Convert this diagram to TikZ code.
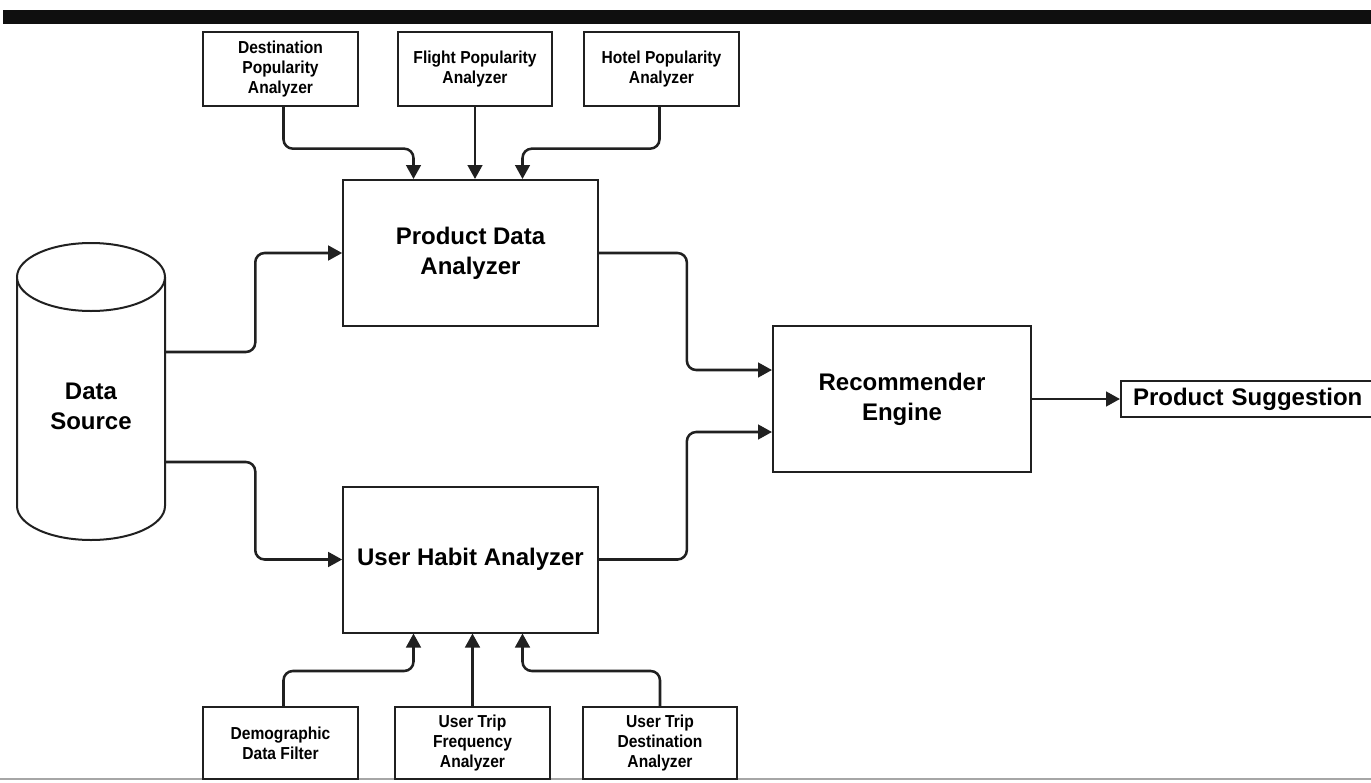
\documentclass[tikz,border=0pt]{standalone}
\usepackage{fontspec}
\setmainfont{Liberation Sans}
\newfontfamily\narrowfont[FakeStretch=0.9]{Liberation Sans}
\usetikzlibrary{arrows.meta,calc}
\definecolor{ln}{HTML}{202020}
\begin{document}
\begin{tikzpicture}[x=0.75pt,y=-0.75pt,
  box/.style={draw=ln,line width=1.5pt,fill=white,inner sep=0pt,align=center},
  smallbox/.style={box,minimum width=116pt,minimum height=55pt,font=\narrowfont\bfseries\fontsize{13}{15}\selectfont},
  bigbox/.style={box,minimum width=191pt,minimum height=109.5pt,font=\bfseries\fontsize{18}{22.5}\selectfont},
  arr/.style={draw=ln,line width=1.9pt,rounded corners=7pt,-{Triangle[length=10.5pt,width=11pt]}}]
\useasboundingbox (0,0) rectangle (1371,782);
% top bar
\fill[black!94] (3,10) rectangle (1371,24);
% bottom line
\draw[gray!70,line width=1pt] (0,779) -- (1371,779);

% top analyzers
\node[smallbox] (dpa) at (280.5,69) {Destination\\Popularity\\Analyzer};
\node[smallbox] (fpa) at (475,69) {Flight Popularity\\Analyzer};
\node[smallbox] (hpa) at (661.5,69) {Hotel Popularity\\Analyzer};

% main boxes
\node[bigbox] (pda) at (470.5,253) {Product Data\\Analyzer};
\node[bigbox] (uha) at (470.5,559.5) {User Habit Analyzer};
\node[bigbox,minimum width=193.5pt] (re) at (902,399) {Recommender\\Engine};

% product suggestion
\node[box,anchor=west,text width=182pt,inner xsep=9pt,minimum height=27pt,align=left,font=\bfseries\fontsize{18}{20}\selectfont] (ps) at (1120,399) {Product Suggestion};

% bottom analyzers
\node[smallbox,minimum height=54pt] (ddf) at (280.5,743) {Demographic\\Data Filter};
\node[smallbox,minimum height=54pt] (utf) at (472.5,743) {User Trip\\Frequency\\Analyzer};
\node[smallbox,minimum height=54pt] (utd) at (660,743) {User Trip\\Destination\\Analyzer};

% data source cylinder
\node[minimum width=111pt,minimum height=223.5pt,inner sep=0pt] (ds) at (91,391) {};
\draw[draw=ln,line width=1.5pt,fill=white] (17,277) -- (17,506) arc[start angle=180,end angle=360,x radius=55.5pt,y radius=25.5pt] -- (165,277);
\draw[draw=ln,line width=1.5pt,fill=white] (91,277) ellipse [x radius=55.5pt,y radius=25.5pt];
\node[font=\bfseries\fontsize{18}{22.5}\selectfont,align=center] (dsl) at (91,406) {Data\\Source};

% target coordinates
\coordinate (pin1) at ($(pda.north)+(-57,0)$);
\coordinate (pin3) at ($(pda.north)+(52,0)$);
\coordinate (uin1) at ($(uha.south)+(-57,0)$);
\coordinate (uin3) at ($(uha.south)+(52,0)$);

% top connectors
\draw[arr] ($(dpa.south)+(3,0)$) -- ++(0,42) -| (pin1);
\draw[arr] (fpa.south) -- (fpa.south |- pda.north);
\draw[arr] ($(hpa.south)+(-2,0)$) -- ++(0,42) -| (pin3);

% bottom connectors
\draw[arr] ($(ddf.north)+(3,0)$) -- ++(0,-35) -| (uin1);
\draw[arr] (utf.north) -- (utf.north |- uha.south);
\draw[arr] (utd.north) -- ++(0,-35) -| (uin3);

% data source connectors
\draw[arr] ($(ds.east)+(0,-39)$) -- ++(90,0) |- (pda.west);
\draw[arr] ($(ds.east)+(0,71)$) -- ++(90,0) |- (uha.west);

% to recommender
\draw[arr] (pda.east) -- ++(88,0) |- ($(re.west)+(0,-29)$);
\draw[arr] (uha.east) -- ++(88,0) |- ($(re.west)+(0,33)$);

% to suggestion
\draw[arr] (re.east) -- (ps.west);
\end{tikzpicture}
\end{document}
